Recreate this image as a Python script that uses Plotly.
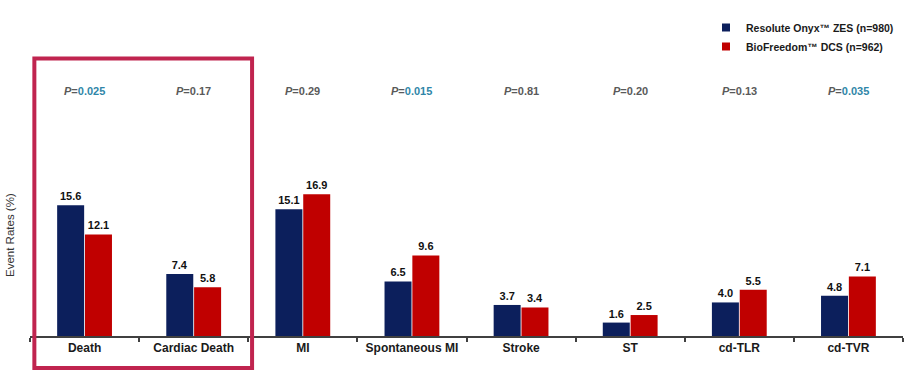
import plotly.graph_objects as go

categories = ["Death", "Cardiac Death", "MI", "Spontaneous MI", "Stroke", "ST", "cd-TLR", "cd-TVR"]
onyx = [15.6, 7.4, 15.1, 6.5, 3.7, 1.6, 4.0, 4.8]
biofreedom = [12.1, 5.8, 16.9, 9.6, 3.4, 2.5, 5.5, 7.1]
p_values = ["0.025", "0.17", "0.29", "0.015", "0.81", "0.20", "0.13", "0.035"]
p_significant = [True, False, False, True, False, False, False, True]
series_names = ["Resolute Onyx\u2122 ZES (n=980)", "BioFreedom\u2122 DCS (n=962)"]

NAVY = "#0c1f5c"
RED = "#c00000"
FONT = "Liberation Sans, Arial, sans-serif"

fig = go.Figure()
for name, vals, col in [(series_names[0], onyx, NAVY), (series_names[1], biofreedom, RED)]:
    fig.add_trace(go.Bar(
        x=categories, y=vals, name=name, marker_color=col,
        marker_line_width=0, showlegend=False,
        text=[f"{v:.1f}" for v in vals], textposition="outside",
        textfont=dict(family=FONT, size=11, color="#111111", weight="bold"),
        cliponaxis=False,
    ))
# legend entries with small square markers
for name, col in [(series_names[0], NAVY), (series_names[1], RED)]:
    fig.add_trace(go.Scatter(
        x=[None], y=[None], mode="markers", name=name,
        marker=dict(symbol="square", size=8, color=col),
    ))

for cat, p, sig in zip(categories, p_values, p_significant):
    num = f"<span style='color:#2f86a8'>{p}</span>" if sig else p
    fig.add_annotation(
        x=cat, y=29.2, xref="x", yref="y",
        text=f"<b><i>P</i>={num}</b>", showarrow=False,
        font=dict(family=FONT, size=11, color="#5a5a5a"),
    )

fig.add_annotation(
    x=(10 - 30) / 873, y=(336 - 235) / 276, xref="paper", yref="paper",
    text="Event Rates (%)", textangle=-90, showarrow=False,
    xanchor="center", yanchor="middle",
    font=dict(family=FONT, size=11.5, color="#333333"),
)

# highlight box around first two categories
fig.add_shape(
    type="rect", xref="x", yref="paper",
    x0=-0.46, x1=1.535, y0=-0.116, y1=1.005,
    line=dict(color="#c0244f", width=4), fillcolor="rgba(0,0,0,0)",
)

fig.update_layout(
    width=914, height=380,
    margin=dict(l=30, r=11, t=60, b=44, autoexpand=False),
    paper_bgcolor="white", plot_bgcolor="white",
    barmode="group", bargap=0.49, bargroupgap=0.03,
    font=dict(family=FONT),
    showlegend=True,
    legend=dict(
        x=(706 - 30) / 873, y=(336 - 13) / 276, xref="paper", yref="paper",
        xanchor="left", yanchor="top",
        bgcolor="rgba(0,0,0,0)",
        font=dict(family=FONT, size=10.5, color="#1a1a1a", weight="bold"),
        itemwidth=30, tracegroupgap=0,
    ),
    xaxis=dict(
        showline=True, linecolor="#404040", linewidth=2,
        ticks="outside", tickson="boundaries", ticklen=4, tickcolor="#404040", tickwidth=2,
        tickfont=dict(family=FONT, size=12, color="#1a1a1a", weight="bold"),
        showgrid=False, zeroline=False, automargin=False,
    ),
    yaxis=dict(
        range=[0, 32.9], showticklabels=False, showgrid=False, zeroline=False,
        showline=False, ticks="", automargin=False,
    ),
)

fig.write_html("out.html", config={"displayModeBar": False})

# remove the default 8px body margin so the figure sits at the window's corner
with open("out.html", "r", encoding="utf-8") as f:
    html = f.read()
html = html.replace("<head>", "<head><style>html,body{margin:0;padding:0;overflow:hidden;}</style>", 1)
with open("out.html", "w", encoding="utf-8") as f:
    f.write(html)
